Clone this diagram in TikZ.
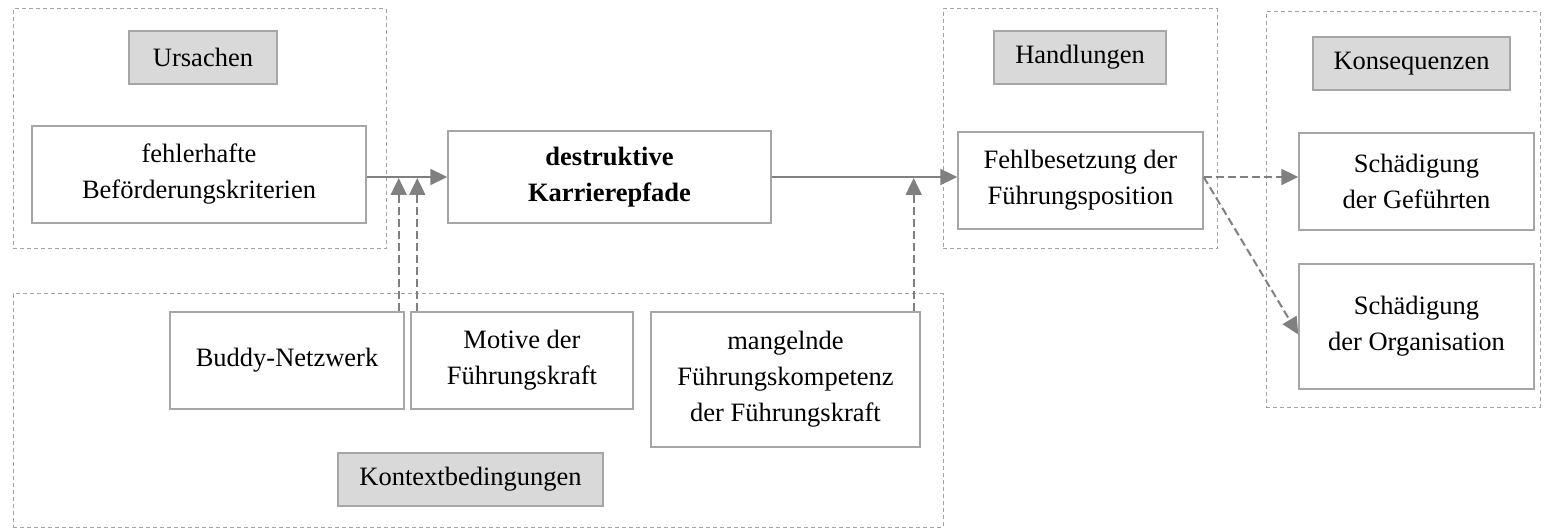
\documentclass[tikz,border=0pt]{standalone}
\usepackage{fontspec}
\setmainfont{Liberation Serif}
\usetikzlibrary{arrows.meta,calc}
\definecolor{boxline}{HTML}{A6A6A6}
\definecolor{grpline}{HTML}{A3A3A3}
\definecolor{arrline}{HTML}{808080}
\definecolor{labfill}{HTML}{D9D9D9}
\begin{document}
\begin{tikzpicture}[x=1pt,y=-1pt,
  every node/.style={font=\fontsize{26.5}{36}\selectfont, align=center, inner sep=0pt},
  grp/.style={draw=grpline, line width=1pt, dash pattern=on 4pt off 3pt},
  box/.style={draw=boxline, line width=1.4pt, fill=white},
  lab/.style={draw=boxline, line width=1.4pt, fill=labfill},
  arr/.style={draw=arrline, line width=2pt, -{Triangle[length=17pt,width=16pt]}},
  darr/.style={arr, dash pattern=on 8pt off 4pt}]
\useasboundingbox (0,0) rectangle (1550,529);

% group frames
\node[grp, minimum width=373pt, minimum height=240pt] (gU) at (199.5,129) {};
\node[grp, minimum width=274pt, minimum height=240pt] (gH) at (1080,129) {};
\node[grp, minimum width=274pt, minimum height=395pt] (gK) at (1403,209.5) {};
\node[grp, minimum width=930pt, minimum height=233pt] (gC) at (478,410.5) {};

% group labels
\node[lab, minimum width=148pt, minimum height=53pt] (lU) at (203,57.5) {Ursachen};
\node[lab, minimum width=172pt, minimum height=53pt] (lH) at (1080,57.5) {Handlungen};
\node[lab, minimum width=197pt, minimum height=53pt] (lK) at (1411.5,63.5) {Konsequenzen};
\node[lab, minimum width=265pt, minimum height=53pt] (lC) at (470.5,479.5) {Kontextbedingungen};

% content boxes
\node[box, minimum width=334pt, minimum height=97pt] (bFK) at (199,174.5) {fehlerhafte\\Beförderungskriterien};
\node[box, minimum width=323pt, minimum height=92pt] (dK) at (609.5,177) {\bfseries destruktive\\\bfseries Karrierepfade};
\node[box, minimum width=245pt, minimum height=97pt] (fF) at (1080.5,180.5) {Fehlbesetzung der\\Führungsposition};
\node[box, minimum width=235pt, minimum height=97pt] (sG) at (1416.5,181.5) {Schädigung\\der Geführten};
\node[box, minimum width=235pt, minimum height=125pt] (sO) at (1416.5,326.5) {Schädigung\\der Organisation};
\node[box, minimum width=234pt, minimum height=97pt] (bN) at (287,360.5) {Buddy-Netzwerk};
\node[box, minimum width=222pt, minimum height=97pt] (mF) at (522,360.5) {Motive der\\Führungskraft};
\node[box, minimum width=269pt, minimum height=135pt] (mK) at (785.5,379.5) {mangelnde\\Führungskompetenz\\der Führungskraft};

% main chain
\draw[arr] (bFK.east |- dK.west) -- (dK.west);
\draw[arr] (dK.east) -- (dK.east -| fF.west);

% context influences
\draw[darr] ([xshift=-6pt]bN.north east) -- ([xshift=-6pt,yshift=-1pt]bN.north east |- dK.west);
\draw[darr] ([xshift=7pt]mF.north west) -- ([xshift=7pt,yshift=-1pt]mF.north west |- dK.west);
\draw[darr] ([xshift=-7pt]mK.north east) -- ([xshift=-7pt,yshift=-1pt]mK.north east |- dK.east);

% consequences
\coordinate (fo) at (fF.east |- dK.east);
\draw[darr] (fo) -- (fo -| sG.west);
\draw[darr] (fo) -- ([yshift=-8pt]sO.west);
\end{tikzpicture}
\end{document}
